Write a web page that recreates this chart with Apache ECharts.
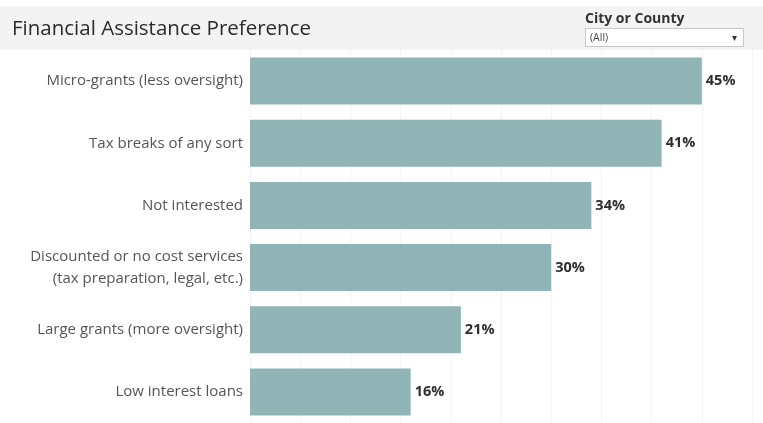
<!DOCTYPE html>
<html>
<head>
<meta charset="utf-8">
<script src="https://cdn.jsdelivr.net/npm/echarts@6/dist/echarts.min.js"></script>
<style>
  html, body { margin: 0; padding: 0; background: #ffffff; }
  #chart { width: 763px; height: 423px; }
</style>
</head>
<body>
<div id="chart"></div>
<script>
// Survey answers, top answer first
const categories = [
  'Micro-grants (less oversight)',
  'Tax breaks of any sort',
  'Not interested',
  'Discounted or no cost services\n(tax preparation, legal, etc.)',
  'Large grants (more oversight)',
  'Low interest loans'
];
const shares = [45, 41, 34, 30, 21, 16];
const filterLabel = 'City or County';
const filterValue = '(All)';

const font = '"Open Sans", Lato, sans-serif';
const chart = echarts.init(document.getElementById('chart'));

chart.setOption({
  animation: false,
  textStyle: { fontFamily: font },
  graphic: [
    { type: 'rect', z: -10, shape: { x: 0, y: 6, width: 763, height: 44 }, style: { fill: '#f3f3f3' } },
    { type: 'text', style: { x: 12, y: 29.5, verticalAlign: 'middle', text: 'Financial Assistance Preference', fontSize: 20.5, fill: '#2b2b2b', fontFamily: font } },
    { type: 'text', style: { x: 585, y: 19, verticalAlign: 'middle', text: filterLabel, fontSize: 14, fontWeight: 'bold', fill: '#333', fontFamily: font } },
    { type: 'rect', shape: { x: 585.5, y: 28.5, width: 158, height: 18 }, style: { fill: '#ffffff', stroke: '#c8c8c8', lineWidth: 1 } },
    { type: 'text', style: { x: 590, y: 38.5, verticalAlign: 'middle', text: filterValue, fontSize: 10.5, fill: '#444', fontFamily: font } },
    { type: 'text', style: { x: 732, y: 38.5, verticalAlign: 'middle', text: '▾', fontSize: 10, fill: '#333', fontFamily: font } }
  ],
  grid: { left: 250, right: 11, top: 50, height: 378, containLabel: false },
  xAxis: {
    type: 'value', min: 0, max: 50, interval: 5,
    axisLabel: { show: false }, axisLine: { show: false }, axisTick: { show: false },
    splitLine: { show: true, lineStyle: { color: '#f4f4f4', width: 1 } }
  },
  yAxis: {
    type: 'category', inverse: true, data: categories,
    axisLine: { show: false }, axisTick: { show: false },
    axisLabel: { color: '#555', fontSize: 15, margin: 7, lineHeight: 22, align: 'right' }
  },
  series: [{
    type: 'bar', data: shares, barWidth: 47,
    itemStyle: { color: '#91b4b7' },
    label: { show: true, position: 'right', distance: 4, formatter: '{c}%', color: '#2e2e2e', fontWeight: 'bold', fontSize: 14.5, fontFamily: font }
  }]
});
</script>
</body>
</html>
